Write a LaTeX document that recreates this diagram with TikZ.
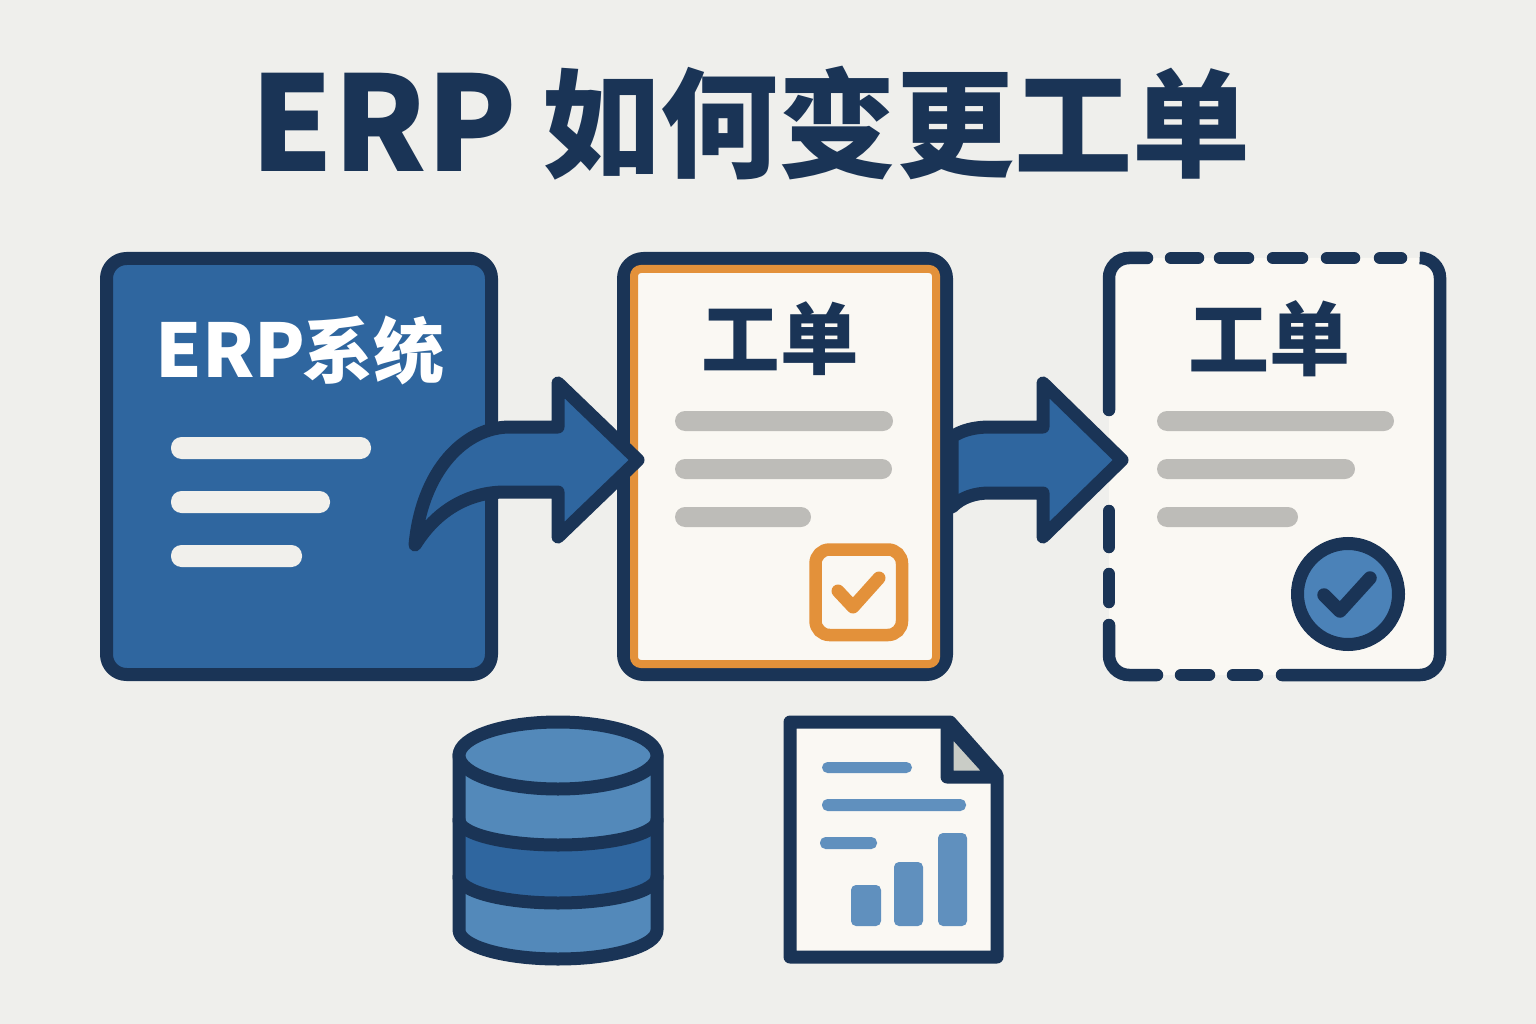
\documentclass[tikz,border=0pt]{standalone}
\usepackage{fontspec}
\newfontfamily\cjk{Noto Sans CJK SC}
\definecolor{bgc}{HTML}{EFEFEC}
\definecolor{navy}{HTML}{1A3456}
\definecolor{blue1}{HTML}{2F669F}
\definecolor{blue2}{HTML}{5389BA}
\definecolor{blue3}{HTML}{4B82B8}
\definecolor{blue4}{HTML}{6090BE}
\definecolor{cream}{HTML}{FAF8F3}
\definecolor{orange1}{HTML}{E3913A}
\definecolor{gray1}{HTML}{BDBCB8}
\definecolor{gray2}{HTML}{C9CCC6}
\definecolor{bar1}{HTML}{F1F0EC}
\tikzset{
  outline/.style={draw=navy,line width=13pt,line join=round,line cap=round},
  dashpiece/.style={draw=navy,line width=12.5pt,line cap=round,rounded corners=20pt},
  pill/.style={rounded corners=#1},
  pill/.default=10pt,
  label/.style={inner sep=0pt,font=\cjk\bfseries},
}
\begin{document}
\begin{tikzpicture}[x=1pt,y=-1pt]
\useasboundingbox (0,0) rectangle (1536,1024);
\fill[bgc] (0,0) rectangle (1536,1024);
% title
\node[label,text=navy,anchor=base west] (title) at (250,172)
  {\fontsize{132}{140}\selectfont ERP\hspace{25pt}\raisebox{3pt}{\fontsize{118}{140}\selectfont 如何变更工单}};
% box 1
\draw[outline,fill=blue1,rounded corners=20pt] (106.5,258.5) rectangle (491.5,674.5);
\node[label,text=white] (erp) at (300,350) {\fontsize{74}{80}\selectfont ERP\hspace{-3pt}\fontsize{71}{80}\selectfont 系统};
\fill[bar1,pill=10.5pt] (171,437) rectangle (371,459);
\fill[bar1,pill=10.5pt] (171,491) rectangle (330,513);
\fill[bar1,pill=10.5pt] (171,545) rectangle (302,567);
% box 3 fill
\fill[cream,rounded corners=20pt] (1109,258) rectangle (1440,675);
% arrow 2
\draw[outline,fill=blue1] (952,437) .. controls (962,430) and (975,427) .. (990,427) -- (1043,427) -- (1043,383) -- (1122,460) -- (1043,537) -- (1043,493) -- (990,493) .. controls (975,493) and (962,497) .. (952,507) -- cycle;
% box 2
\draw[outline,fill=cream,rounded corners=20pt] (623.5,258.5) rectangle (946.5,674.5);
\draw[draw=orange1,line width=8pt,rounded corners=7pt] (634,269) rectangle (936,664);
\node[label,text=navy] (wo1) at (780,339) {\fontsize{78.5}{84}\selectfont 工单};
\fill[gray1,pill=10pt] (675,411) rectangle (893,431);
\fill[gray1,pill=10pt] (675,459) rectangle (892,479);
\fill[gray1,pill=10pt] (675,507) rectangle (811,527);
\draw[draw=orange1,line width=12.5pt,fill=cream,rounded corners=14pt] (815.5,549.5) rectangle (902,635);
\draw[draw=orange1,line width=13pt,line cap=round,line join=round] (838,591) -- (853,607) -- (879,578);
% arrow 1
\draw[outline,fill=blue1] (558,427) -- (510,427) .. controls (465,427) and (422,470) .. (415,545) .. controls (440,505) and (475,492) .. (505,492) -- (558,492) -- (558,537) -- (638,460) -- (558,383) -- cycle;
% box 3 outline
\draw[dashpiece] (1109,410) -- (1109,258) -- (1147,258);
\draw[dashpiece] (1171,258) -- (1198,258);
\draw[dashpiece] (1220,258) -- (1248,258);
\draw[dashpiece] (1273,258) -- (1302,258);
\draw[dashpiece] (1327,258) -- (1354,258);
\draw[dashpiece] (1380,258) -- (1401,258);
\draw[dashpiece] (1423,258) -- (1440,258) -- (1440,675) -- (1282,675);
\draw[dashpiece] (1233,675) -- (1257,675);
\draw[dashpiece] (1181,675) -- (1209,675);
\draw[dashpiece] (1157,675) -- (1109,675) -- (1109,625);
\draw[dashpiece] (1109,511) -- (1109,547);
\draw[dashpiece] (1109,574) -- (1109,602);
\node[label,text=navy] (wo2) at (1269,339) {\fontsize{81}{84}\selectfont 工单};
\fill[gray1,pill=10pt] (1157,411) rectangle (1394,431);
\fill[gray1,pill=10pt] (1157,459) rectangle (1355,479);
\fill[gray1,pill=10pt] (1157,507) rectangle (1298,527);
\draw[draw=navy,line width=13pt,fill=blue3] (1348,594) circle (50.5);
\draw[draw=navy,line width=13.5pt,line cap=round,line join=round] (1324,595) -- (1340,611) -- (1370,578);
% cylinder
\fill[blue2] (459,755) -- (459,930) arc[start angle=180,end angle=0,x radius=99,y radius=29] -- (657,755) -- cycle;
\fill[blue1] (459,820) arc[start angle=180,end angle=0,x radius=99,y radius=25] -- (657,877) arc[start angle=0,end angle=180,x radius=99,y radius=26] -- cycle;
\draw[outline] (459,820) arc[start angle=180,end angle=0,x radius=99,y radius=25];
\draw[outline] (459,877) arc[start angle=180,end angle=0,x radius=99,y radius=26];
\draw[outline] (459,755) -- (459,930) arc[start angle=180,end angle=0,x radius=99,y radius=29] -- (657,755);
\draw[outline,fill=blue2] (558,755.5) ellipse [x radius=99,y radius=33.5];
% document
\draw[outline,fill=cream] (790,722) -- (950,722) -- (997,775) -- (997,957) -- (790,957) -- cycle;
\draw[outline,fill=gray2] (947,724) -- (947,777) -- (995,777) -- cycle;
\fill[blue4,pill=5.5pt] (822,762) rectangle (912,773);
\fill[blue4,pill=5.5pt] (822,799) rectangle (966,811);
\fill[blue4,pill=5.5pt] (820,837) rectangle (877,849);
\fill[blue4,pill=5pt] (851,885) rectangle (881,926);
\fill[blue4,pill=5pt] (894,862) rectangle (923,926);
\fill[blue4,pill=5pt] (938,833) rectangle (967,926);
\end{tikzpicture}
\end{document}
